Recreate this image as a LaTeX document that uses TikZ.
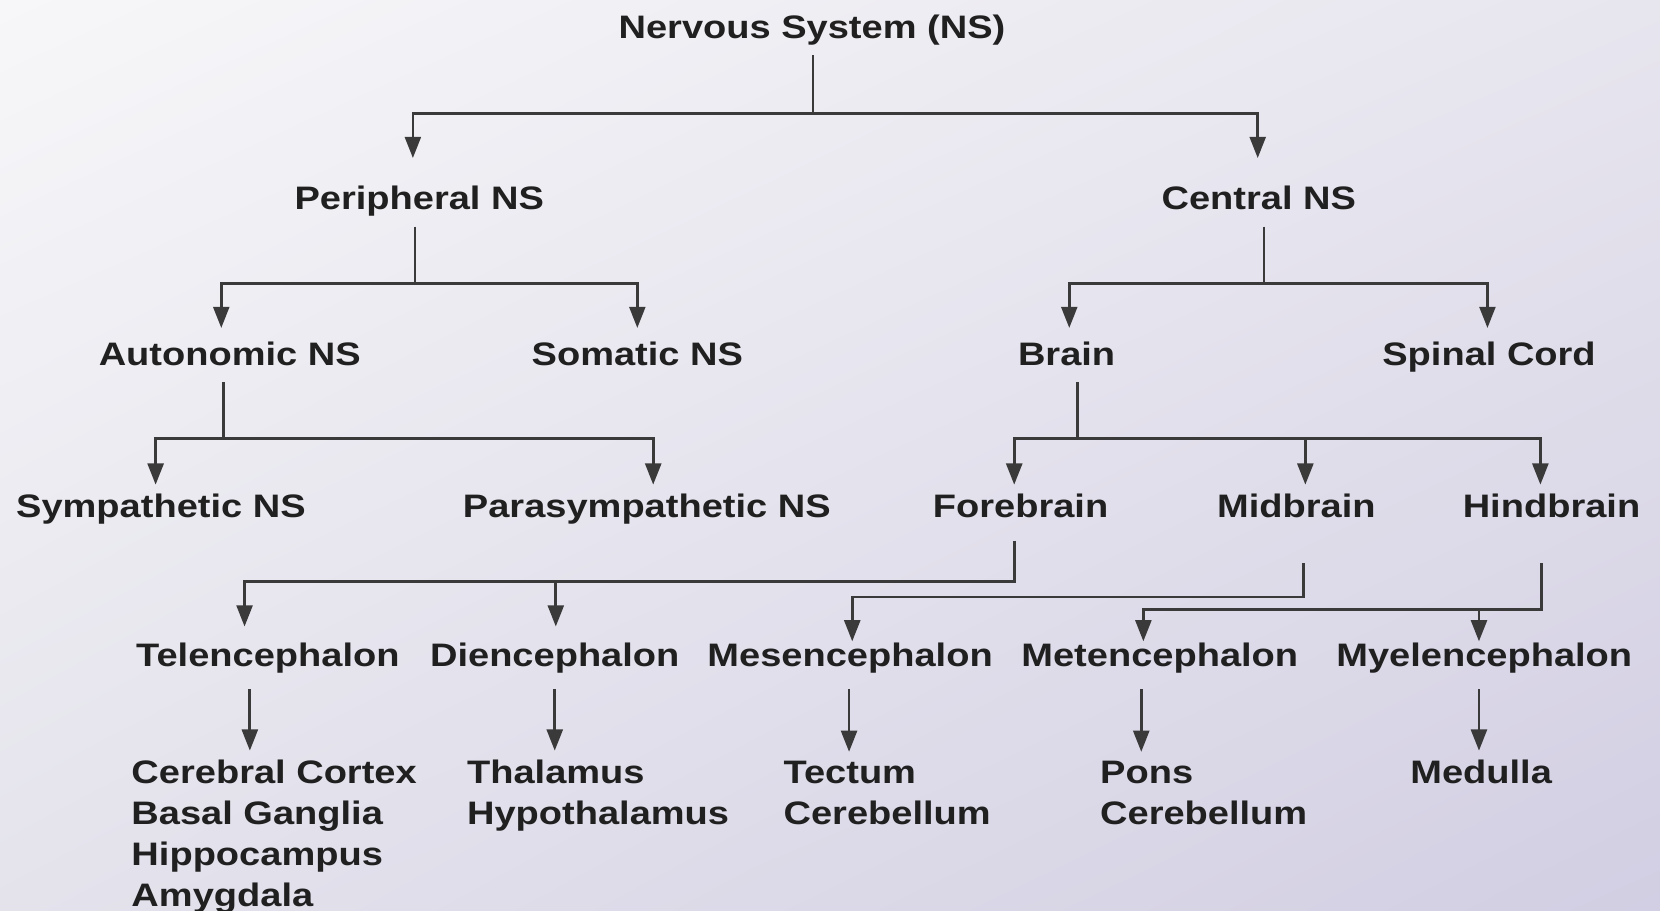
\documentclass[tikz,border=0pt]{standalone}
\usepackage{fontspec}
\setmainfont{Liberation Sans}[FakeStretch=1.17]
\usetikzlibrary{arrows.meta,shadings}
\definecolor{txt}{HTML}{202020}
\definecolor{lnc}{HTML}{3A3A3A}
\definecolor{bgA}{HTML}{F7F7F9}
\definecolor{bgB}{HTML}{E7E5EE}
\definecolor{bgC}{HTML}{E4E3EC}
\definecolor{bgD}{HTML}{D2CEE3}
\begin{document}
\begin{tikzpicture}[x=1pt,y=-1pt,
  lbl/.style={font=\fontsize{30.7}{36}\selectfont\bfseries, text=txt, inner sep=0pt, text height=22pt, text depth=0pt, anchor=base},
  lst/.style={font=\fontsize{30.7}{36}\selectfont\bfseries, text=txt, inner sep=0pt, anchor=base west},
  wire/.style={draw=lnc, line width=2.6pt},
  arr/.style={wire, -{Triangle[length=20pt,width=15pt]}}]
\shade[upper left=bgA, upper right=bgB, lower left=bgC, lower right=bgD] (0,0) rectangle (1568,860);
\useasboundingbox (0,0) rectangle (1568,860);

% nodes
\node[lbl] (nerv) at (767,36) {Nervous System (NS)};
\node[lbl] (per) at (396,198) {Peripheral NS};
\node[lbl] (cen) at (1189,198) {Central NS};
\node[lbl] (auto) at (217,345) {Autonomic NS};
\node[lbl] (soma) at (602,345) {Somatic NS};
\node[lbl] (brain) at (1007.5,345) {Brain};
\node[lbl] (spinal) at (1406.5,345) {Spinal Cord};
\node[lbl] (symp) at (152,489) {Sympathetic NS};
\node[lbl] (para) at (611,489) {Parasympathetic NS};
\node[lbl] (fore) at (964,489) {Forebrain};
\node[lbl] (mid) at (1224.5,489) {Midbrain};
\node[lbl] (hind) at (1465.5,489) {Hindbrain};
\node[lbl] (tel) at (253,630) {Telencephalon};
\node[lbl] (di) at (524,630) {Diencephalon};
\node[lbl] (mes) at (803,630) {Mesencephalon};
\node[lbl] (met) at (1095.5,630) {Metencephalon};
\node[lbl] (myel) at (1402,630) {Myelencephalon};
\node[lst] (cc) at (124,740.5) {\vtop{\baselineskip=38.5pt\hbox{Cerebral Cortex}\hbox{Basal Ganglia}\hbox{Hippocampus}\hbox{Amygdala}}};
\node[lst] (thal) at (441,740.5) {\vtop{\baselineskip=38.5pt\hbox{Thalamus}\hbox{Hypothalamus}}};
\node[lst] (tect) at (740,740.5) {\vtop{\baselineskip=38.5pt\hbox{Tectum}\hbox{Cerebellum}}};
\node[lst] (pons) at (1039,740.5) {\vtop{\baselineskip=38.5pt\hbox{Pons}\hbox{Cerebellum}}};
\node[lst] (med) at (1332,740.5) {Medulla};

% level 0
\draw[wire, shorten <=16pt] (768,0 |- nerv.base) -- (768,107);
\draw[arr, shorten >=26.5pt] (768,107) -| (390,0 |- per.north);
\draw[arr, shorten >=26.5pt] (768,107) -| (1188,0 |- cen.north);
% peripheral
\draw[wire, shorten <=16pt] (392,0 |- per.base) -- (392,268);
\draw[arr, shorten >=13pt] (392,268) -| (209,0 |- auto.north);
\draw[arr, shorten >=13pt] (392,268) -| (602,0 |- soma.north);
% central
\draw[wire, shorten <=16pt] (1194,0 |- cen.base) -- (1194,268);
\draw[arr, shorten >=13pt] (1194,268) -| (1010,0 |- brain.north);
\draw[arr, shorten >=13pt] (1194,268) -| (1405,0 |- spinal.north);
% autonomic
\draw[wire, shorten <=16pt] (211,0 |- auto.base) -- (211,414);
\draw[arr, shorten >=9pt] (211,414) -| (147,0 |- symp.north);
\draw[arr, shorten >=9pt] (211,414) -| (617,0 |- para.north);
% brain
\draw[wire, shorten <=16pt] (1018,0 |- brain.base) -- (1018,414);
\draw[arr, shorten >=9pt] (1018,414) -| (958,0 |- fore.north);
\draw[arr, shorten >=9pt] (1018,414) -| (1455,0 |- hind.north);
\draw[arr, shorten >=9pt] (1233,414) -- (1233,0 |- mid.north);
% forebrain
\draw[arr, shorten <=22pt, shorten >=16pt] (958,0 |- fore.base) |- (231,549) -- (231,0 |- tel.north);
\draw[arr, shorten >=16pt] (525,549) -- (525,0 |- di.north);
% midbrain
\draw[arr, shorten <=43pt, shorten >=2pt] (1231,0 |- mid.base) |- (805,564) -- (805,0 |- mes.north);
% hindbrain
\draw[arr, shorten <=43pt, shorten >=2pt] (1456,0 |- hind.base) |- (1080,576) -- (1080,0 |- met.north);
\draw[arr, shorten >=2pt] (1397,576) -- (1397,0 |- myel.north);
% row 4 to row 5
\draw[arr, shorten <=21pt, shorten >=9pt] (236,0 |- tel.base) -- (236,0 |- cc.north);
\draw[arr, shorten <=21pt, shorten >=9pt] (524,0 |- di.base) -- (524,0 |- thal.north);
\draw[arr, shorten <=21pt, shorten >=9pt] (802,0 |- mes.base) -- (802,0 |- tect.north);
\draw[arr, shorten <=21pt, shorten >=9pt] (1078,0 |- met.base) -- (1078,0 |- pons.north);
\draw[arr, shorten <=21pt, shorten >=9pt] (1397,0 |- myel.base) -- (1397,0 |- med.north);
\end{tikzpicture}
\end{document}
